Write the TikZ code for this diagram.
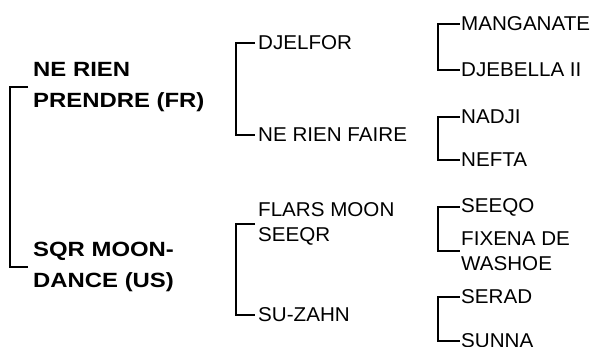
\documentclass[tikz,border=0pt]{standalone}
\usepackage{fontspec}
\setmainfont{Liberation Sans}
\newfontfamily\horsefont{Liberation Sans}[FakeStretch=1.03]
\newfontfamily\sirefont{Liberation Sans}[FakeStretch=1.16]

\begin{document}
\begin{tikzpicture}[x=1pt,y=-1pt,every node/.style={align=left,anchor=west,inner sep=0pt},horse/.style={font=\horsefont\fontsize{20pt}{25pt}\selectfont},sire/.style={font=\sirefont\bfseries\fontsize{20.6pt}{31pt}\selectfont},bracket/.style={line width=1.8pt}]
		\useasboundingbox (0,0) rectangle (597,347);
		% first generation
		\node[sire] (nerienprendre) at (33,87) {NE RIEN\\PRENDRE (FR)};
		\node[sire] (sqrmoondance) at (33,267) {SQR MOON-\\DANCE (US)};
		% second generation
		\node[horse] (djelfor) at (258,43) {DJELFOR};
		\node[horse] (nerienfaire) at (258,135) {NE RIEN FAIRE};
		\node[horse] (flarsmoon) at (258,224) {FLARS MOON\\SEEQR};
		\node[horse] (suzahn) at (258,315) {SU-ZAHN};
		% third generation
		\node[horse] (manganate) at (461,24) {MANGANATE};
		\node[horse] (djebella) at (461,70) {DJEBELLA II};
		\node[horse] (nadji) at (461,117) {NADJI};
		\node[horse] (nefta) at (461,160) {NEFTA};
		\node[horse] (seeqo) at (461,207) {SEEQO};
		\node[horse] (fixena) at (461,251) {FIXENA DE\\WASHOE};
		\node[horse] (serad) at (461,297) {SERAD};
		\node[horse] (sunna) at (461,341) {SUNNA};
		% brackets
		\draw[bracket] ([xshift=-5pt]nerienprendre.west) -- ++(-18pt,0) |- ([xshift=-5pt]sqrmoondance.west);
		\draw[bracket] ([xshift=-3pt]djelfor.west) -- ++(-19pt,0) |- ([xshift=-3pt]nerienfaire.west);
		\draw[bracket] ([xshift=-3pt]flarsmoon.west) -- ++(-19pt,0) |- ([xshift=-3pt]suzahn.west);
		\draw[bracket] ([xshift=-1.5pt]manganate.west) -- ++(-21.5pt,0) |- ([xshift=-1.5pt]djebella.west);
		\draw[bracket] ([xshift=-1.5pt]nadji.west) -- ++(-21.5pt,0) |- ([xshift=-1.5pt]nefta.west);
		\draw[bracket] ([xshift=-1.5pt]seeqo.west) -- ++(-21.5pt,0) |- ([xshift=-1.5pt]fixena.west);
		\draw[bracket] ([xshift=-1.5pt]serad.west) -- ++(-21.5pt,0) |- ([xshift=-1.5pt]sunna.west); % last pair
	\end{tikzpicture}
\end{document}
